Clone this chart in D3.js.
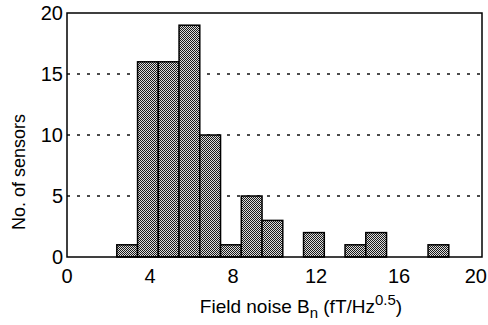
<!DOCTYPE html>
<html>
<head>
<meta charset="utf-8">
<script src="https://cdn.jsdelivr.net/npm/d3@7"></script>
<style>
  body { margin: 0; background: #fff; }
  svg { font-family: "Liberation Sans", Arial, sans-serif; }
</style>
</head>
<body>
<div id="chart"></div>
<script>
let width = 488;
let height = 325;

// histogram bins (left edge, width 1) and counts
const binStarts = [2.4, 3.4, 4.4, 5.4, 6.4, 7.4, 8.4, 9.4, 11.4, 13.4, 14.4, 17.4];
const counts    = [1,   16,  16,  19,  10,  1,   5,   3,   2,    1,    2,    1];
const binWidth = 1;

const xTicks = [0, 4, 8, 12, 16, 20];
const yTicks = [0, 5, 10, 15, 20];
const gridAt = [5, 10, 15];

const margin = {top: 13, right: 6, bottom: 68, left: 67};

let x = d3.scaleLinear().domain([0, 20]).range([margin.left, width - margin.right]);
let y = d3.scaleLinear().domain([0, 20]).range([height - margin.bottom, margin.top]);

let svg = d3.select("#chart").append("svg")
  .attr("width", width)
  .attr("height", height);

// dithered crosshatch fill
let defs = svg.append("defs");
let pat = defs.append("pattern")
  .attr("id", "hatch")
  .attr("patternUnits", "userSpaceOnUse")
  .attr("width", 4)
  .attr("height", 4);
pat.append("rect").attr("width", 4).attr("height", 4).attr("fill", "#dcdcdc");
pat.append("path")
  .attr("d", "M0,0h1v1h-1z M2,0h1v1h-1z M1,1h1v1h-1z M3,1h1v1h-1z M0,2h1v1h-1z M1,3h1v1h-1z M3,3h1v1h-1z M2,2h1v1h-1z")
  .attr("fill", "#1a1a1a");

// dotted grid lines
svg.append("g").selectAll("line")
  .data(gridAt)
  .join("line")
    .attr("x1", x(0)).attr("x2", x(20))
    .attr("y1", d => y(d)).attr("y2", d => y(d))
    .attr("stroke", "#111")
    .attr("stroke-width", 1.5)
    .attr("stroke-dasharray", "3,7");

// bars
svg.append("g").selectAll("rect")
  .data(binStarts)
  .join("rect")
    .attr("x", d => x(d))
    .attr("width", d => x(d + binWidth) - x(d))
    .attr("y", (d, i) => y(counts[i]))
    .attr("height", (d, i) => y(0) - y(counts[i]))
    .attr("fill", "url(#hatch)")
    .attr("stroke", "#000")
    .attr("stroke-width", 1.5);

// frame
svg.append("rect")
  .attr("x", x(0)).attr("y", y(20))
  .attr("width", x(20) - x(0))
  .attr("height", y(0) - y(20))
  .attr("fill", "none")
  .attr("stroke", "#000")
  .attr("stroke-width", 1.5);

// tick labels
svg.append("g").selectAll("text")
  .data(yTicks)
  .join("text")
    .attr("x", x(0) - 4)
    .attr("y", d => y(d) + 7)
    .attr("text-anchor", "end")
    .style("font-size", "20px")
    .text(d => d);

svg.append("g").selectAll("text")
  .data(xTicks)
  .join("text")
    .attr("x", d => d === 20 ? width - 1 : x(d))
    .attr("y", y(0) + 26)
    .attr("text-anchor", d => d === 20 ? "end" : "middle")
    .style("font-size", "20px")
    .text(d => d);

// axis titles
svg.append("text")
  .attr("transform", `translate(25, ${(y(0) + y(20)) / 2 + 37}) rotate(-90)`)
  .attr("text-anchor", "middle")
  .style("font-size", "18px")
  .text("No. of sensors");

let xt = svg.append("text")
  .attr("x", 301)
  .attr("y", 313)
  .attr("text-anchor", "middle")
  .style("font-size", "19px");
xt.append("tspan").text("Field noise B");
xt.append("tspan").attr("dy", 5).style("font-size", "15px").text("n");
xt.append("tspan").attr("dy", -5).text(" (fT/Hz");
xt.append("tspan").attr("dy", -8).style("font-size", "15px").text("0.5");
xt.append("tspan").attr("dy", 8).text(")");
</script>
</body>
</html>
